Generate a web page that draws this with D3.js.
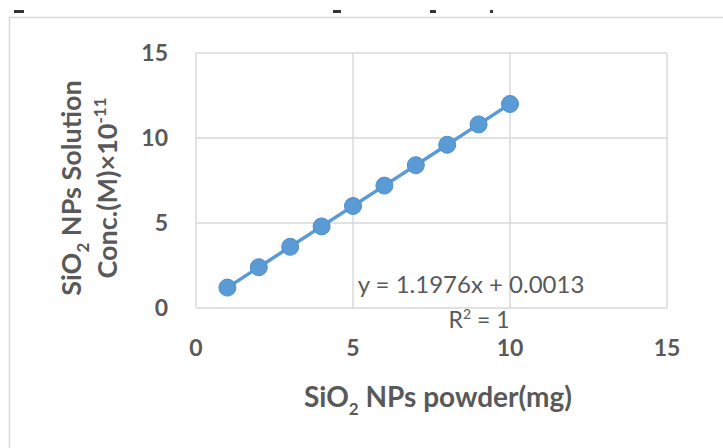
<!DOCTYPE html>
<html>
<head>
<meta charset="utf-8">
<script src="https://cdn.jsdelivr.net/npm/d3@7"></script>
<style>
  body { margin: 0; background: #fff; }
  text { font-family: Lato, "Open Sans", sans-serif; }
</style>
</head>
<body>
<div id="chart"></div>
<script>
// mass of SiO2 powder (mg) vs solution concentration (x 1e-11 M)
var powder = [1, 2, 3, 4, 5, 6, 7, 8, 9, 10];
var conc = [1.2, 2.4, 3.6, 4.8, 6.0, 7.2, 8.4, 9.6, 10.8, 12.0];
var xTicks = [0, 5, 10, 15];
var yTicks = [0, 5, 10, 15];
var trendText = "y = 1.1976x + 0.0013";

var W = 723, H = 448;
var svg = d3.select("#chart").append("svg")
  .attr("width", W).attr("height", H);

// chart border (the upper part is cropped in the reference)
svg.append("rect")
  .attr("x", 9.5).attr("y", 17.5)
  .attr("width", W + 10).attr("height", H + 10)
  .attr("fill", "none").attr("stroke", "#d9d9d9").attr("stroke-width", 1.5);

// bits of the cut-off title
[[14, 10], [333, 8], [430, 6], [490, 3]].forEach(function (d) {
  svg.append("rect").attr("x", d[0]).attr("y", 10).attr("width", d[1]).attr("height", 3)
    .attr("fill", "#333");
});

var x = d3.scaleLinear().domain([0, 15]).range([196, 667]);
var y = d3.scaleLinear().domain([0, 15]).range([308, 53]);

var grid = svg.append("g");
grid.selectAll("line.v").data(xTicks).enter().append("line")
  .attr("x1", function (d) { return x(d); }).attr("x2", function (d) { return x(d); })
  .attr("y1", y(0)).attr("y2", y(15))
  .attr("stroke", "#d9d9d9").attr("stroke-width", 1.5);
grid.selectAll("line.h").data(yTicks).enter().append("line")
  .attr("y1", function (d) { return y(d); }).attr("y2", function (d) { return y(d); })
  .attr("x1", x(0)).attr("x2", x(15))
  .attr("stroke", "#d9d9d9").attr("stroke-width", 1.5);

// tick labels
svg.selectAll("text.xt").data(xTicks).enter().append("text")
  .attr("x", function (d) { return x(d); }).attr("y", 356)
  .attr("text-anchor", "middle").attr("font-size", 23).attr("font-weight", "bold")
  .attr("fill", "#595959").text(function (d) { return d; });
svg.selectAll("text.yt").data(yTicks).enter().append("text")
  .attr("x", 168).attr("y", function (d) { return y(d) + 8; })
  .attr("text-anchor", "end").attr("font-size", 23).attr("font-weight", "bold")
  .attr("fill", "#595959").text(function (d) { return d; });

// series
var pts = powder.map(function (p, i) { return { x: p, y: conc[i] }; });
svg.append("path").datum(pts)
  .attr("fill", "none").attr("stroke", "#5b9bd5").attr("stroke-width", 3.5)
  .attr("d", d3.line().x(function (d) { return x(d.x); }).y(function (d) { return y(d.y); }));
svg.selectAll("circle").data(pts).enter().append("circle")
  .attr("cx", function (d) { return x(d.x); }).attr("cy", function (d) { return y(d.y); })
  .attr("r", 8.5).attr("fill", "#5b9bd5").attr("stroke", "#4f8fca").attr("stroke-width", 1);

// trendline label
svg.append("text").attr("x", 471).attr("y", 293)
  .attr("text-anchor", "middle").attr("font-size", 24).attr("fill", "#595959")
  .text(trendText);
var r2 = svg.append("text").attr("x", 479).attr("y", 328)
  .attr("text-anchor", "middle").attr("font-size", 23).attr("fill", "#595959");
r2.append("tspan").text("R");
r2.append("tspan").attr("dy", -9).attr("font-size", 14).text("2");
r2.append("tspan").attr("dy", 9).text(" = 1");

// axis titles
var xt = svg.append("text").attr("x", 438).attr("y", 407)
  .attr("text-anchor", "middle").attr("font-size", 28).attr("font-weight", "bold")
  .attr("fill", "#595959");
xt.append("tspan").text("SiO");
xt.append("tspan").attr("dy", 8).attr("font-size", 17).text("2");
xt.append("tspan").attr("dy", -8).text(" NPs powder(mg)");

var yt = svg.append("g").attr("transform", "translate(0,188) rotate(-90)");
var l1 = yt.append("text").attr("x", 0).attr("y", 81)
  .attr("text-anchor", "middle").attr("font-size", 27).attr("font-weight", "bold")
  .attr("fill", "#595959");
l1.append("tspan").text("SiO");
l1.append("tspan").attr("dy", 8).attr("font-size", 17).text("2");
l1.append("tspan").attr("dy", -8).text(" NPs Solution");
var l2 = yt.append("text").attr("x", 0).attr("y", 117)
  .attr("text-anchor", "middle").attr("font-size", 27).attr("font-weight", "bold")
  .attr("fill", "#595959");
l2.append("tspan").text("Conc.(M)×10");
l2.append("tspan").attr("dy", -11).attr("font-size", 17).text("-11");
</script>
</body>
</html>
